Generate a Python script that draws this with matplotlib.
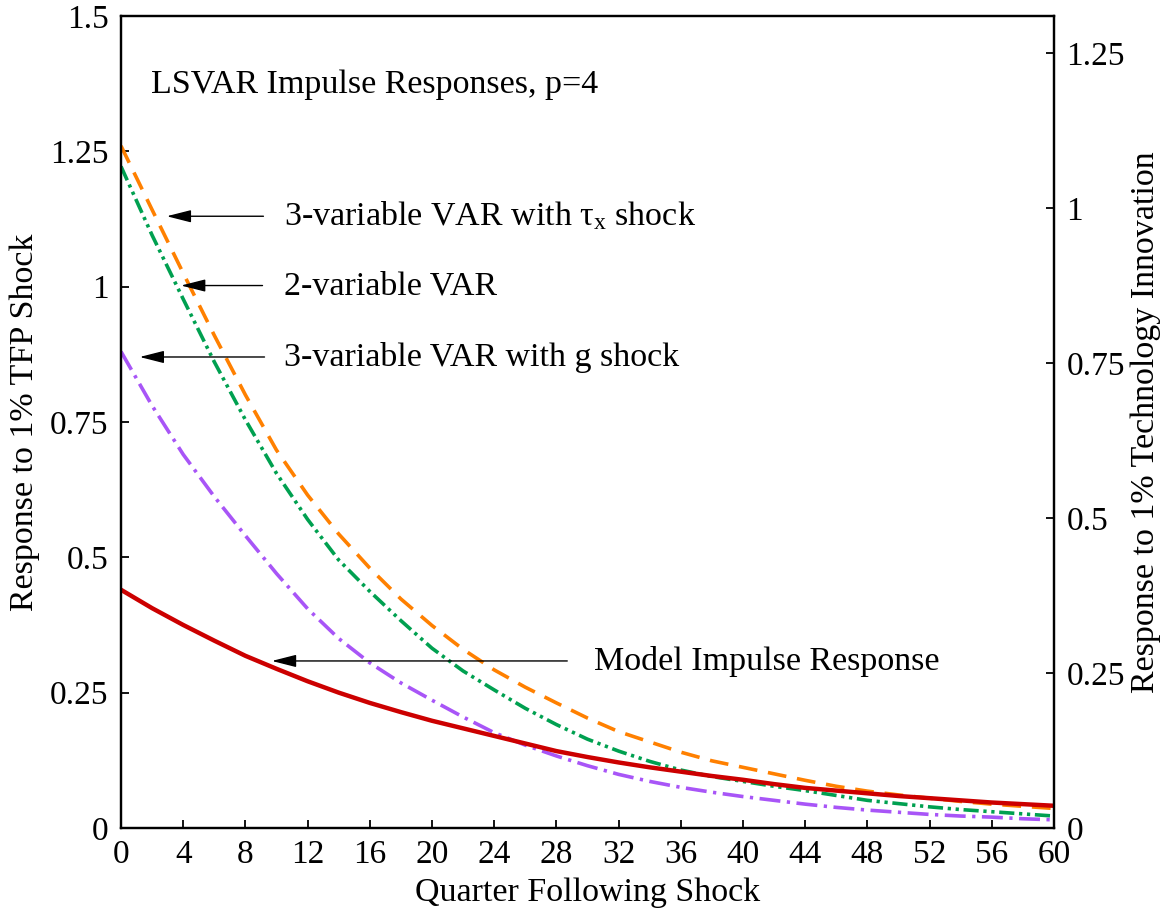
import numpy as np
import matplotlib
matplotlib.use("Agg")
import matplotlib.pyplot as plt

plt.rcParams['font.family'] = ['Liberation Serif', 'DejaVu Serif']
plt.rcParams['mathtext.fontset'] = 'custom'
plt.rcParams['mathtext.rm'] = 'Liberation Serif'
plt.rcParams['mathtext.it'] = 'Liberation Serif:italic'

# quarters after the shock, read every 2 quarters
quarters = list(range(0, 61, 2))

model_irf = [0.440, 0.406, 0.375, 0.346, 0.318, 0.294, 0.271, 0.250, 0.231, 0.214,
             0.198, 0.184, 0.170, 0.156, 0.142, 0.131, 0.121, 0.112, 0.104, 0.096,
             0.089, 0.081, 0.074, 0.069, 0.064, 0.059, 0.055, 0.051, 0.047, 0.044, 0.041]
var3_tau = [1.260, 1.142, 1.025, 0.910, 0.800, 0.698, 0.615, 0.543, 0.480, 0.423,
            0.374, 0.330, 0.292, 0.260, 0.231, 0.203, 0.178, 0.159, 0.140, 0.124,
            0.112, 0.100, 0.088, 0.077, 0.068, 0.061, 0.055, 0.049, 0.044, 0.040, 0.036]
var2 = [1.222, 1.095, 0.977, 0.861, 0.754, 0.655, 0.570, 0.495, 0.437, 0.383,
        0.332, 0.290, 0.255, 0.221, 0.191, 0.164, 0.142, 0.123, 0.107, 0.095,
        0.086, 0.077, 0.069, 0.060, 0.051, 0.045, 0.039, 0.034, 0.030, 0.026, 0.022]
var3_g = [0.880, 0.780, 0.690, 0.612, 0.540, 0.470, 0.405, 0.350, 0.305, 0.268,
          0.236, 0.205, 0.176, 0.153, 0.133, 0.115, 0.099, 0.086, 0.075, 0.066,
          0.058, 0.051, 0.044, 0.038, 0.033, 0.029, 0.025, 0.022, 0.020, 0.017, 0.015]

xticks = list(range(0, 61, 4))
left_ticks = [0, 0.25, 0.5, 0.75, 1, 1.25, 1.5]
left_labels = ['0', '0.25', '0.5', '0.75', '1', '1.25', '1.5']
right_ticks = [0, 0.25, 0.5, 0.75, 1, 1.25]
right_labels = ['0', '0.25', '0.5', '0.75', '1', '1.25']

labels = ['3-variable VAR with $\\mathrm{τ_x}$ shock', '2-variable VAR',
          '3-variable VAR with g shock', 'Model Impulse Response']

fig = plt.figure(figsize=(11.69, 9.22), dpi=100)
ax = fig.add_axes([0.1035, 0.102, 0.7981, 0.8807])

ax.plot(quarters, var3_tau, color='#ff8000', lw=2.6, dashes=(5.2, 3.0))
ax.plot(quarters, var2, color='#00a050', lw=2.6, dashes=(4.2, 1.3, 0.9, 1.3, 0.9, 1.3))
ax.plot(quarters, var3_g, color='#a855f7', lw=2.6, dashes=(5.8, 1.8, 0.9, 1.8))
ax.plot(quarters, model_irf, color='#cc0000', lw=3.2)

ax.set_xlim(0, 60)
ax.set_ylim(0, 1.5)
ax.set_xticks(xticks)
ax.set_yticks(left_ticks)
ax.set_yticklabels(left_labels)
ax.tick_params(direction='in', length=6, width=1.3, labelsize=24, top=False)
ax.tick_params(axis='x', pad=8)
ax.tick_params(axis='y', pad=9)
for s in ax.spines.values():
    s.set_linewidth(1.6)

ax2 = ax.twinx()
ax2.set_ylim(0, 1.5 * 541.3 / 620)
ax2.set_yticks(right_ticks)
ax2.set_yticklabels(right_labels)
ax2.tick_params(direction='in', length=6, width=1.3, labelsize=24, pad=9)
for s in ax2.spines.values():
    s.set_linewidth(1.6)

ax.set_xlabel('Quarter Following Shock', fontsize=24.5, labelpad=6)
ax.set_ylabel('Response to 1% TFP Shock', fontsize=24.5)
ax.yaxis.set_label_coords(-0.087, 0.5)
ax2.set_ylabel('Response to 1% Technology Innovation', fontsize=24.5, labelpad=4)

ax.text(1.9, 1.357, 'LSVAR Impulse Responses, p=4', fontsize=24.5, va='baseline')

# arrows with labels: (tip x, tail x, y, text x)
arrows = [(2.94, 9.16, 1.130, 10.5),
          (3.86, 9.10, 1.002, 10.5),
          (1.20, 9.23, 0.870, 10.5),
          (9.70, 28.7, 0.3085, 30.4)]
for (tip, tail, y, tx), lab in zip(arrows, labels):
    ax.annotate('', xy=(tip, y), xytext=(tail, y),
                arrowprops=dict(arrowstyle='-|>,head_length=1.5,head_width=0.38',
                                mutation_scale=10, lw=1, color='k',
                                shrinkA=0, shrinkB=0))
    ax.annotate(lab, xy=(tx, y), xytext=(0, -6.5), textcoords='offset points',
                fontsize=24.5, va='baseline', ha='left')

fig.savefig('out.png', dpi=100)
